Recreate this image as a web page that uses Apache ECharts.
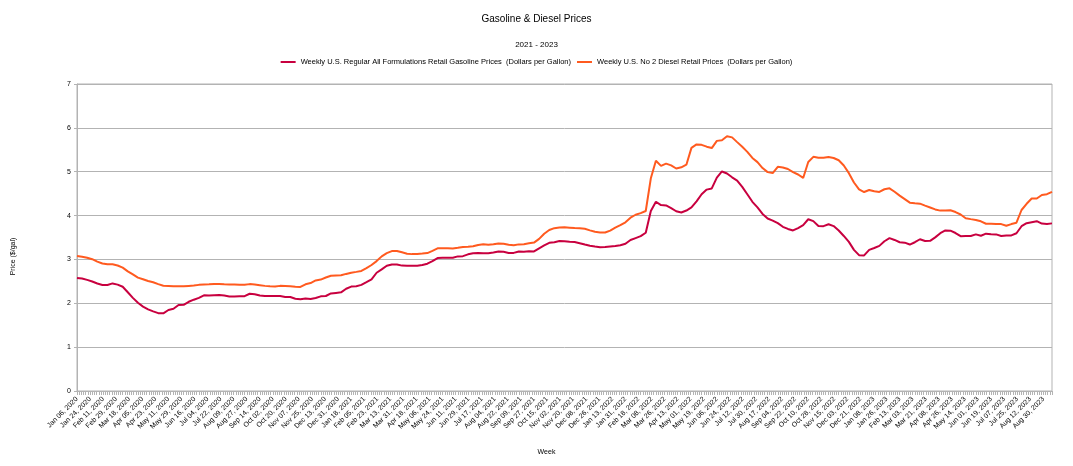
<!DOCTYPE html>
<html>
<head>
<meta charset="utf-8">
<script src="https://cdn.jsdelivr.net/npm/echarts@6/dist/echarts.min.js"></script>
<style>
html,body{margin:0;padding:0;background:#fff;}
#chart{width:1073px;height:466px;}
</style>
</head>
<body>
<div id="chart"></div>
<script>
// Weekly observations start on this Monday; one value per week.
const startDate = Date.UTC(2020, 0, 6);
const labelStepDays = 18;
const axisEndDays = 1344;

const seriesNames = [
  'Weekly U.S. Regular All Formulations Retail Gasoline Prices  (Dollars per Gallon)',
  'Weekly U.S. No 2 Diesel Retail Prices  (Dollars per Gallon)'
];

const gasoline2020 = [2.579,2.563,2.534,2.497,2.451,2.417,2.416,2.453,2.425,2.376,
  2.252,2.124,2.012,1.924,1.862,1.815,1.775,1.771,1.847,1.875,
  1.960,1.966,2.034,2.082,2.123,2.182,2.176,2.185,2.187,2.177,
  2.157,2.156,2.160,2.163,2.217,2.206,2.176,2.164,2.164,2.166,
  2.167,2.145,2.143,2.105,2.090,2.107,2.098,2.119,2.158,2.166,
  2.224,2.237];
const gasoline2021 = [2.249,2.331,2.381,2.389,2.420,2.483,2.547,2.696,2.772,2.857,
  2.885,2.883,2.859,2.856,2.858,2.856,2.871,2.903,2.961,3.030,
  3.037,3.037,3.038,3.069,3.075,3.116,3.140,3.145,3.140,3.141,
  3.158,3.179,3.176,3.147,3.149,3.180,3.176,3.186,3.182,3.254,
  3.319,3.378,3.393,3.419,3.417,3.403,3.398,3.369,3.339,3.312,
  3.294,3.279];
const gasoline2022 = [3.281,3.295,3.308,3.324,3.356,3.444,3.487,3.530,3.608,4.102,
  4.315,4.239,4.231,4.170,4.098,4.069,4.115,4.185,4.325,4.486,
  4.592,4.619,4.865,5.006,4.960,4.872,4.798,4.653,4.485,4.314,
  4.186,4.038,3.934,3.886,3.827,3.744,3.695,3.661,3.715,3.782,
  3.916,3.873,3.762,3.759,3.802,3.760,3.660,3.535,3.400,3.218,
  3.097,3.091];
const gasoline2023 = [3.218,3.261,3.309,3.415,3.486,3.444,3.391,3.382,3.339,3.392,
  3.460,3.421,3.424,3.503,3.597,3.660,3.655,3.602,3.530,3.535,
  3.533,3.571,3.539,3.587,3.574,3.571,3.533,3.547,3.547,3.596,
  3.757,3.827,3.850,3.872,3.818,3.810,3.822];

const diesel2020 = [3.080,3.062,3.037,3.005,2.950,2.907,2.890,2.889,2.861,2.812,
  2.729,2.660,2.586,2.548,2.507,2.480,2.437,2.399,2.394,2.386,
  2.390,2.386,2.396,2.403,2.420,2.430,2.434,2.439,2.438,2.433,
  2.429,2.428,2.424,2.425,2.437,2.429,2.413,2.397,2.387,2.381,
  2.397,2.395,2.386,2.375,2.373,2.433,2.462,2.520,2.540,2.587,
  2.627,2.636];
const diesel2021 = [2.640,2.670,2.696,2.716,2.738,2.801,2.873,2.962,3.070,3.142,
  3.190,3.194,3.163,3.131,3.121,3.125,3.134,3.145,3.196,3.253,
  3.255,3.253,3.251,3.265,3.283,3.287,3.300,3.331,3.344,3.337,
  3.345,3.365,3.359,3.335,3.324,3.343,3.348,3.367,3.384,3.468,
  3.586,3.671,3.713,3.727,3.731,3.724,3.715,3.712,3.698,3.663,
  3.630,3.616];
const diesel2022 = [3.613,3.657,3.725,3.780,3.846,3.951,4.019,4.055,4.104,4.849,
  5.250,5.134,5.185,5.144,5.073,5.101,5.160,5.543,5.623,5.613,
  5.571,5.539,5.703,5.718,5.810,5.783,5.675,5.568,5.453,5.314,
  5.219,5.084,4.991,4.969,5.113,5.097,5.062,4.992,4.936,4.858,
  5.222,5.339,5.317,5.317,5.333,5.313,5.261,5.141,4.967,4.754,
  4.596,4.537];
const diesel2023 = [4.583,4.553,4.540,4.600,4.621,4.543,4.455,4.376,4.294,4.282,
  4.271,4.226,4.185,4.140,4.113,4.115,4.120,4.080,4.025,3.938,
  3.919,3.901,3.869,3.814,3.812,3.810,3.805,3.767,3.806,3.838,
  4.127,4.268,4.388,4.389,4.470,4.487,4.542];

const gasoline = [].concat(gasoline2020, gasoline2021, gasoline2022, gasoline2023);
const diesel = [].concat(diesel2020, diesel2021, diesel2022, diesel2023);

// x values: days since the start date (one week apart)
const dayOffsets = gasoline.map((_, i) => i * 7);

const MONTHS = ['Jan','Feb','Mar','Apr','May','Jun','Jul','Aug','Sep','Oct','Nov','Dec'];
function fmtDay(v) {
  const d = new Date(startDate + v * 86400000);
  const dd = String(d.getUTCDate()).padStart(2, '0');
  return MONTHS[d.getUTCMonth()] + ' ' + dd + ', ' + d.getUTCFullYear();
}

const FONT = '"Liberation Sans", Arial, sans-serif';
const GRID_COLOR = '#b3b3b3';

const chart = echarts.init(document.getElementById('chart'), null, {renderer: 'canvas'});
chart.setOption({
  animation: false,
  backgroundColor: '#ffffff',
  textStyle: {fontFamily: FONT, color: '#000'},
  title: [
    {text: 'Gasoline & Diesel Prices', left: 'center', top: 14, padding: 0,
     textStyle: {fontFamily: FONT, fontSize: 10, fontWeight: 'normal', color: '#000'}},
    {text: '2021 - 2023', left: 'center', top: 41, padding: 0,
     textStyle: {fontFamily: FONT, fontSize: 8, fontWeight: 'normal', color: '#000'}}
  ],
  legend: {
    top: 58, left: 'center', padding: 0,
    icon: 'rect', itemWidth: 15, itemHeight: 2, itemGap: 6,
    textStyle: {fontFamily: FONT, fontSize: 7.5, color: '#000'},
    data: seriesNames
  },
  grid: {left: 77, right: 21, top: 84, bottom: 75, show: true, borderColor: GRID_COLOR, borderWidth: 1},
  xAxis: {
    type: 'value', min: 0, max: axisEndDays, interval: labelStepDays,
    name: 'Week', nameLocation: 'middle', nameGap: 58,
    nameTextStyle: {fontFamily: FONT, fontSize: 7, color: '#000', padding: [0, 36, 0, 0]},
    axisLine: {show: true, lineStyle: {color: GRID_COLOR}},
    axisTick: {show: true, length: 4, lineStyle: {color: GRID_COLOR}},
    minorTick: {show: true, splitNumber: 6, length: 4, lineStyle: {color: GRID_COLOR}},
    splitLine: {show: false},
    axisLabel: {rotate: 45, fontSize: 7, fontFamily: FONT, color: '#000', margin: 7,
      showMaxLabel: false, formatter: fmtDay}
  },
  yAxis: {
    type: 'value', min: 0, max: 7, interval: 1,
    name: 'Price ($/gal)', nameLocation: 'middle', nameGap: 60, nameRotate: 90,
    nameTextStyle: {fontFamily: FONT, fontSize: 7, color: '#000', padding: [0, 38, 0, 0]},
    axisLine: {show: true, lineStyle: {color: GRID_COLOR}},
    axisTick: {show: true, length: 3, lineStyle: {color: GRID_COLOR}},
    splitLine: {show: true, lineStyle: {color: GRID_COLOR, width: 1}},
    axisLabel: {fontSize: 7, fontFamily: FONT, color: '#000', margin: 6}
  },
  series: [
    {name: seriesNames[0], type: 'line', showSymbol: false, symbol: 'none',
     color: '#c8003f', lineStyle: {width: 2, color: '#c8003f'},
     data: dayOffsets.map((d, i) => [d, gasoline[i]])},
    {name: seriesNames[1], type: 'line', showSymbol: false, symbol: 'none',
     color: '#ff5a1f', lineStyle: {width: 2, color: '#ff5a1f'},
     data: dayOffsets.map((d, i) => [d, diesel[i]])}
  ]
});
</script>
</body>
</html>
